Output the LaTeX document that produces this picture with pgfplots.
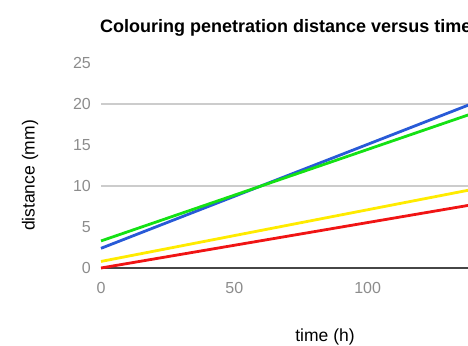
\documentclass[border=0pt]{standalone}
\usepackage{fontspec}
\setmainfont{Liberation Sans}
\usepackage{pgfplots}
\pgfplotsset{compat=1.18}
\definecolor{cblue}{RGB}{40,90,215}
\definecolor{cgreen}{RGB}{20,225,20}
\definecolor{cyellow}{RGB}{255,235,0}
\definecolor{cred}{RGB}{240,20,20}
\definecolor{grid}{RGB}{204,204,204}
\definecolor{base}{RGB}{70,70,70}
\definecolor{ticklab}{RGB}{140,140,140}
\begin{document}
\begin{tikzpicture}[x=1pt,y=1pt]
\path[use as bounding box] (0,0) rectangle (468,345);
\clip (0,0) rectangle (468,345);
\begin{axis}[
  at={(101pt,77pt)}, anchor=south west,
  scale only axis, width=426.7pt, height=205pt,
  xmin=0, xmax=160, ymin=0, ymax=25,
  axis line style={draw=none},
  major tick length=0pt, tick style={draw=none},
  xtick={0,50,100}, ytick={0,5,10,15,20,25},
  extra y ticks={10,20}, extra y tick labels={},
  extra y tick style={grid=major, major grid style={grid, line width=1.5pt}},
  /pgf/number format/assume math mode=true,
  tick label style={font=\fontsize{16}{18}\selectfont, text=ticklab, inner sep=0pt},
  xticklabel style={anchor=center, yshift=-19.5pt},
  yticklabel style={anchor=east, xshift=-10pt},
  title={Colouring penetration distance versus time},
  title style={at={(0,1)}, anchor=west, yshift=29pt, xshift=-1pt, inner sep=0pt, font=\bfseries\fontsize{18}{21}\selectfont},
  xlabel={time (h)},
  xlabel style={at={(axis description cs:0.525,-0.335)}, anchor=center, inner sep=0pt, font=\fontsize{17.5}{20}\selectfont},
  ylabel={distance (mm)},
  ylabel style={at={(axis description cs:-0.1664,0.451)}, anchor=center, inner sep=0pt, font=\fontsize{17.5}{20}\selectfont},
  clip=false,
]
\draw[base, line width=2.6pt] (axis cs:0,0) -- (axis cs:160,0);
\addplot[cblue, line width=2.8pt] coordinates {(0,2.4) (138,19.9)};
\addplot[cgreen, line width=2.8pt] coordinates {(0,3.3) (138,18.7)};
\addplot[cyellow, line width=2.8pt] coordinates {(0,0.8) (138,9.5)};
\addplot[cred, line width=2.8pt] coordinates {(0,0.0) (138,7.65)};
\end{axis}
\end{tikzpicture}
\end{document}
